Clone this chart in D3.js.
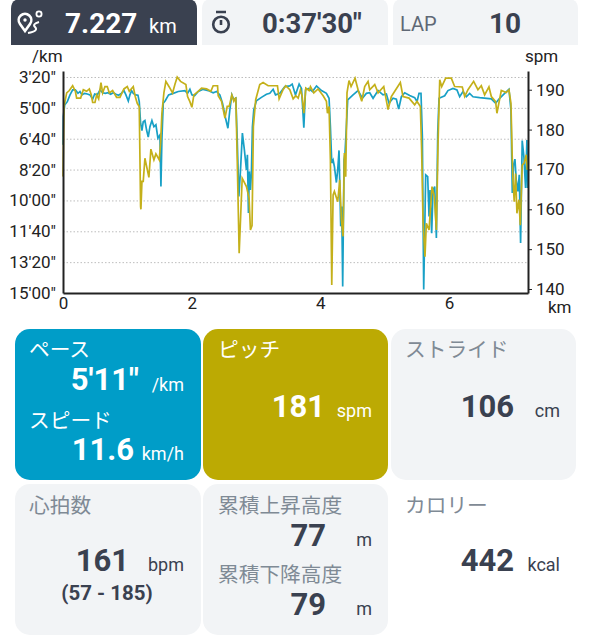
<!DOCTYPE html>
<html><head><meta charset="utf-8">
<script src="https://cdnjs.cloudflare.com/ajax/libs/d3/7.8.5/d3.min.js"></script>
<style>html,body{margin:0;padding:0;background:#fff}svg{display:block}
text{font-family:Roboto,"Noto Sans CJK JP",sans-serif}</style></head><body>
<div id="chart"></div>
<script>
// pace series: [km, seconds per km]
const paceSeries = [[0,420],[.005,328],[.026,291],[.067,280],[.109,258],[.15,242],[.192,242],[.233,253],[.264,247],[.295,258],[.336,253],[.378,255],[.419,258],[.461,272],[.492,255],[.533,258],[.575,242],[.616,251],[.657,253],[.699,251],[.74,256],[.782,251],[.823,256],[.864,259],[.906,253],[.947,244],[.978,258],[1.015,278],[1.04,258],[1.066,244],[1.092,253],[1.128,258],[1.165,259],[1.185,280],[1.206,350],[1.227,374],[1.247,345],[1.273,341],[1.299,372],[1.325,395],[1.351,361],[1.382,341],[1.413,361],[1.444,355],[1.475,398],[1.506,388],[1.522,555],[1.537,404],[1.558,285],[1.589,277],[1.641,258],[1.713,253],[1.791,247],[1.894,244],[1.936,253],[1.972,240],[2.003,258],[2.044,261],[2.101,247],[2.179,240],[2.257,244],[2.334,251],[2.386,247],[2.438,258],[2.479,285],[2.52,328],[2.563,366],[2.593,307],[2.624,258],[2.655,274],[2.686,269],[2.708,404],[2.733,587],[2.759,501],[2.788,382],[2.819,436],[2.851,501],[2.866,452],[2.882,641],[2.897,506],[2.913,566],[2.928,512],[2.944,361],[2.965,307],[3.006,277],[3.084,266],[3.162,256],[3.214,253],[3.266,240],[3.303,258],[3.37,253],[3.448,231],[3.525,229],[3.562,223],[3.613,258],[3.67,223],[3.707,237],[3.727,307],[3.743,364],[3.769,242],[3.815,237],[3.877,247],[3.94,229],[4.017,244],[4.094,253],[4.135,269],[4.156,361],[4.177,479],[4.198,469],[4.218,490],[4.249,542],[4.27,501],[4.29,438],[4.316,684],[4.332,620],[4.347,879],[4.368,469],[4.383,447],[4.404,361],[4.425,274],[4.508,258],[4.586,244],[4.653,269],[4.715,253],[4.767,251],[4.819,269],[4.897,244],[4.974,258],[5.026,255],[5.067,285],[5.129,269],[5.181,272],[5.217,304],[5.259,264],[5.311,251],[5.388,260],[5.466,267],[5.502,280],[5.533,253],[5.564,253],[5.585,393],[5.606,889],[5.637,517],[5.668,523],[5.689,652],[5.704,566],[5.73,706],[5.751,566],[5.777,555],[5.803,722],[5.824,382],[5.844,269],[5.932,261],[5.983,244],[6.061,237],[6.123,242],[6.165,264],[6.217,247],[6.269,264],[6.32,253],[6.372,264],[6.476,267],[6.657,271],[6.724,285],[6.786,269],[6.864,253],[6.931,240],[6.962,307],[6.983,576],[7.003,485],[7.024,466],[7.044,533],[7.07,571],[7.091,517],[7.112,738],[7.137,406],[7.163,458],[7.189,560],[7.21,404],[7.22,560]];
// cadence series: [km, steps per minute]
const cadenceSeries = [[0,168.2],[.016,185.8],[.057,189.2],[.098,189.8],[.15,191],[.192,189.6],[.212,187.9],[.274,187.9],[.316,190],[.367,189.6],[.409,190.2],[.44,188.7],[.461,186.8],[.497,186.8],[.523,188.7],[.554,187.7],[.59,191.8],[.616,189.2],[.652,190.8],[.688,190.8],[.72,189.2],[.771,189.8],[.833,188.1],[.885,188.1],[.947,190.2],[.999,190.8],[1.03,189.6],[1.092,190.8],[1.123,188.3],[1.154,186.6],[1.185,185.8],[1.206,160.7],[1.211,160],[1.227,167],[1.247,167],[1.273,172.8],[1.335,168],[1.366,175.1],[1.413,172.4],[1.444,173.9],[1.496,172.4],[1.517,176.6],[1.537,184.1],[1.568,189.2],[1.599,192.1],[1.651,190.7],[1.703,189.2],[1.739,191.3],[1.775,193.2],[1.827,192.1],[1.91,191.3],[1.936,188.3],[1.972,187],[2.003,185.6],[2.034,188.7],[2.101,189.6],[2.153,190.4],[2.231,190.2],[2.298,189.6],[2.334,191],[2.402,191],[2.412,188.5],[2.464,187.1],[2.517,182.9],[2.552,185.8],[2.583,185.8],[2.624,188.7],[2.655,187.1],[2.686,188.1],[2.708,172.4],[2.738,149],[2.785,167.8],[2.851,165.7],[2.892,162.8],[2.913,154.8],[2.938,155.9],[2.959,180.8],[2.995,187.5],[3.058,191.3],[3.11,191.8],[3.188,191],[3.333,191],[3.359,187.7],[3.42,190],[3.462,191],[3.525,190],[3.577,187.7],[3.618,188.5],[3.655,187.9],[3.691,190],[3.717,188.3],[3.743,184.1],[3.774,190.4],[3.825,189.8],[3.846,190.8],[3.898,189.2],[3.965,190.2],[4.043,188.5],[4.094,187.1],[4.11,184.1],[4.135,185.8],[4.156,172.4],[4.177,141],[4.198,163.6],[4.218,164.5],[4.27,161.9],[4.301,167.4],[4.327,157.3],[4.353,153.2],[4.373,174.1],[4.394,168.2],[4.414,189.2],[4.445,192.3],[4.477,190.8],[4.539,192.9],[4.586,190],[4.643,187.1],[4.689,190.8],[4.741,192.1],[4.767,190],[4.845,191.3],[4.897,189.2],[4.985,190.8],[5.052,185],[5.103,188.3],[5.171,190],[5.243,191.8],[5.284,188.3],[5.378,187.9],[5.466,186.2],[5.502,187.1],[5.554,185.8],[5.574,174.9],[5.595,157.3],[5.626,148.1],[5.647,156.5],[5.689,154.8],[5.735,165.7],[5.772,163.2],[5.803,154.8],[5.829,176.6],[5.855,192.5],[5.886,190.8],[5.948,192.9],[6.035,192.9],[6.087,190.8],[6.206,190.7],[6.243,188.3],[6.294,190],[6.382,192.1],[6.449,190],[6.501,191],[6.553,188.7],[6.62,190.7],[6.657,188.3],[6.724,187],[6.744,184.1],[6.812,189.8],[6.889,189.3],[6.931,190],[6.962,186.6],[6.983,172.4],[6.993,167.4],[7.013,161.9],[7.034,169],[7.055,159],[7.086,162.4],[7.107,156],[7.137,171.1],[7.168,171.6],[7.2,173.7],[7.215,169.9]];
const xTicks = [0,2,4,6];
const paceTicks = [200,300,400,500,600,700,800,900];
const paceLabels = ["3'20\"","5'00\"","6'40\"","8'20\"","10'00\"","11'40\"","13'20\"","15'00\""];
const cadenceTicks = [140,150,160,170,180,190];
const summary = {distance:"7.227",time:"0:37'30\"",laps:"10"};

const W=590,H=640;
const svg=d3.select("#chart").append("svg").attr("width",W).attr("height",H);
const C={blue:"#009dc8",gold:"#bcaa03",dark:"#3a4150",light:"#f2f4f6",label:"#7f8a95",ink:"#222"};

// top bar
function topTab(x,w,fill){
  const r=10,h=45,t=-1;
  svg.append("path").attr("fill",fill)
    .attr("d",`M${x},${h}V${t+r}Q${x},${t} ${x+r},${t}H${x+w-r}Q${x+w},${t} ${x+w},${t+r}V${h}Z`);
}
topTab(11,186,C.dark);topTab(202,186,C.light);topTab(393,185,C.light);
function txt(x,y,s,size,fill,weight,anchor){
  return svg.append("text").attr("x",x).attr("y",y).attr("font-size",size).attr("fill",fill)
    .attr("font-weight",weight||400).attr("text-anchor",anchor||"start").text(s);
}
txt(65,33,summary.distance,28,"#fff",700);
txt(149,33,"km",20,"#fff");
txt(262,33,summary.time,27.5,C.dark,700);
txt(400,31,"LAP",20,"#5f6875");
txt(505,33,summary.laps,28,C.dark,700,"middle");
// route icon
const ri=svg.append("g").attr("fill","none").attr("stroke","#fff").attr("stroke-width",2.6);
ri.append("path").attr("d","M25,31 L20,24 A6.3,6.3 0 1 1 30,24 Z");
ri.append("circle").attr("cx",25).attr("cy",20).attr("r",1.7).attr("fill","#fff").attr("stroke","none");
ri.append("circle").attr("cx",39).attr("cy",14).attr("r",2.6).attr("stroke-width",1.8);
ri.append("path").attr("d","M39,22 Q32,24 35,27 Q39,31 28,33").attr("stroke-width",2);
// watch icon
const wi=svg.append("g").attr("fill","none").attr("stroke",C.dark).attr("stroke-width",2.6);
wi.append("circle").attr("cx",221).attr("cy",24.5).attr("r",7.8);
wi.append("path").attr("d","M216,12H226M221,20V25");

// chart
const x=d3.scaleLinear().domain([0,7.227]).range([63,528]);
const yPace=d3.scaleLinear().domain([180.6,900]).range([71,293]);
const yCad=d3.scaleLinear().domain([139.0,194.7]).range([293,71]);

svg.append("g").selectAll("line").data(paceTicks.slice(0,-1)).join("line")
  .attr("x1",63).attr("x2",528).attr("y1",d=>yPace(d)+.5).attr("y2",d=>yPace(d)+.5)
  .attr("stroke","#bdbdbd").attr("stroke-width",1).attr("stroke-dasharray","1.5 2");

const lineP=d3.line().x(d=>x(d[0])).y(d=>yPace(d[1]));
const lineC=d3.line().x(d=>x(d[0])).y(d=>yCad(d[1]));
svg.append("path").attr("d",lineP(paceSeries)).attr("fill","none").attr("stroke","#18a0c6").attr("stroke-width",1.7);
svg.append("path").attr("d",lineC(cadenceSeries)).attr("fill","none").attr("stroke","#c4b01a").attr("stroke-width",1.7);

function styleAxis(g){
  g.selectAll("text").attr("font-size",17).attr("fill",C.ink);
  g.select(".domain").attr("stroke","#222").attr("stroke-width",2);
}
const gL=svg.append("g").attr("transform","translate(63,0)")
  .call(d3.axisLeft(yPace).tickValues(paceTicks).tickFormat((d,i)=>paceLabels[i]).tickSize(0).tickPadding(7));
styleAxis(gL);
const gR=svg.append("g").attr("transform","translate(528,0)")
  .call(d3.axisRight(yCad).tickValues(cadenceTicks).tickSize(4).tickSizeOuter(0).tickPadding(4));
styleAxis(gR);gR.selectAll("line").attr("stroke","#222");
const gB=svg.append("g").attr("transform","translate(0,293)")
  .call(d3.axisBottom(x).tickValues(xTicks).tickSize(0).tickPadding(4));
styleAxis(gB);
txt(32,62,"/km",17,C.ink);
txt(525,62,"spm",17,C.ink);
txt(548,313,"km",17,C.ink);

// cards
const cardRows=[
 {x:15,y:329,w:186,h:151,fill:C.blue},
 {x:203,y:329,w:185,h:151,fill:C.gold},
 {x:391,y:329,w:185,h:151,fill:C.light},
 {x:15,y:484,w:186,h:151,fill:C.light},
 {x:203,y:484,w:185,h:151,fill:C.light},
 {x:391,y:484,w:185,h:151,fill:"#fff"}
];
svg.append("g").selectAll("rect").data(cardRows).join("rect")
 .attr("x",d=>d.x).attr("y",d=>d.y).attr("width",d=>d.w).attr("height",d=>d.h)
 .attr("rx",15).attr("fill",d=>d.fill);

const L=20.7,N=31,U=18;
txt(29,357,"ペース",L,"#fff");
txt(139,390,"5'11\"",N,"#fff",700,"end");
txt(184,391,"/km",U,"#fff",400,"end");
txt(29,428,"スピード",L,"#fff");
txt(134,460,"11.6",N,"#fff",700,"end");
txt(184,460,"km/h",U,"#fff",400,"end");

txt(218,357,"ピッチ",L,"#fff");
txt(325,417,"181",N,"#fff",700,"end");
txt(372,417,"spm",U,"#fff",400,"end");

txt(405,357,"ストライド",L,C.label);
txt(514,417,"106",N,C.dark,700,"end");
txt(560,417,"cm",U,C.dark,400,"end");

txt(29,513,"心拍数",L,C.label);
txt(129,571,"161",N,C.dark,700,"end");
txt(184,571,"bpm",U,C.dark,400,"end");
txt(107,600,"(57 - 185)",20.5,C.dark,700,"middle");

txt(218,513,"累積上昇高度",L,C.label);
txt(326,546,"77",N,C.dark,700,"end");
txt(372,546,"m",U,C.dark,400,"end");
txt(218,582,"累積下降高度",L,C.label);
txt(326,615,"79",N,C.dark,700,"end");
txt(372,615,"m",U,C.dark,400,"end");

txt(405,513,"カロリー",L,C.label);
txt(514,571,"442",N,C.dark,700,"end");
txt(560,571,"kcal",U,C.dark,400,"end");
</script></body></html>
